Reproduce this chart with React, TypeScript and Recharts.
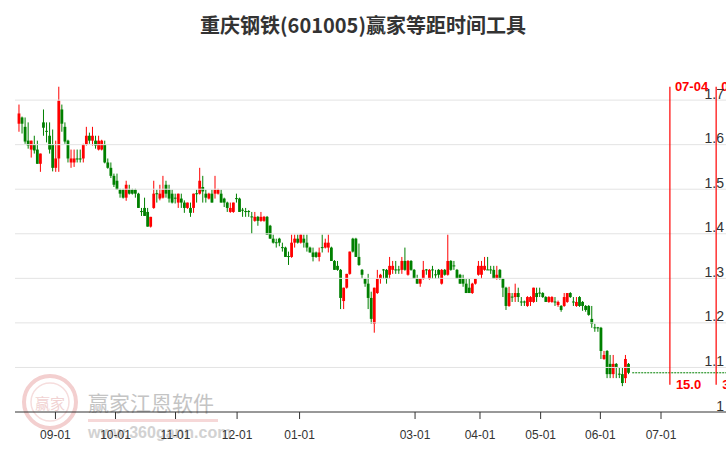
import React from 'react';
import { ComposedChart, Bar, XAxis, YAxis, ReferenceLine } from 'recharts';

const opens = [
  1.647, 1.661, 1.640, 1.609, 1.589, 1.600, 1.589, 1.557, 1.650, 1.631,
  1.620, 1.600, 1.548, 1.569, 1.679, 1.640, 1.609, 1.560, 1.560, 1.569,
  1.569, 1.569, 1.600, 1.620, 1.609, 1.609, 1.589, 1.589, 1.600, 1.560,
  1.548, 1.530, 1.519, 1.499, 1.499, 1.481, 1.499, 1.499, 1.499, 1.490,
  1.451, 1.458, 1.449, 1.416, 1.458, 1.491, 1.479, 1.481, 1.510, 1.499,
  1.490, 1.481, 1.470, 1.479, 1.470, 1.458, 1.458, 1.458, 1.491, 1.490,
  1.505, 1.490, 1.479, 1.490, 1.490, 1.490, 1.490, 1.479, 1.470, 1.449,
  1.449, 1.480, 1.479, 1.454, 1.451, 1.451, 1.439, 1.429, 1.438, 1.429,
  1.429, 1.438, 1.418, 1.389, 1.381, 1.389, 1.370, 1.369, 1.350, 1.348,
  1.380, 1.389, 1.380, 1.389, 1.380, 1.369, 1.358, 1.358, 1.348, 1.370,
  1.369, 1.369, 1.369, 1.339, 1.328, 1.319, 1.249, 1.279, 1.310, 1.389,
  1.389, 1.348, 1.319, 1.299, 1.288, 1.256, 1.198, 1.267, 1.299, 1.320,
  1.319, 1.308, 1.319, 1.320, 1.320, 1.319, 1.339, 1.308, 1.339, 1.319,
  1.299, 1.288, 1.299, 1.320, 1.299, 1.320, 1.309, 1.319, 1.288, 1.319,
  1.308, 1.339, 1.329, 1.319, 1.308, 1.299, 1.288, 1.279, 1.267, 1.288,
  1.308, 1.308, 1.319, 1.320, 1.320, 1.319, 1.299, 1.319, 1.299, 1.279,
  1.238, 1.259, 1.258, 1.267, 1.248, 1.248, 1.238, 1.247, 1.247, 1.267,
  1.268, 1.267, 1.258, 1.247, 1.247, 1.248, 1.240, 1.238, 1.238, 1.247,
  1.267, 1.248, 1.238, 1.258, 1.247, 1.238, 1.238, 1.209, 1.190, 1.190,
  1.189, 1.119, 1.137, 1.108, 1.085, 1.108, 1.086, 1.085, 1.076, 1.108,
];

const highs = [
  1.690, 1.663, 1.661, 1.650, 1.609, 1.620, 1.609, 1.580, 1.679, 1.650,
  1.650, 1.634, 1.609, 1.730, 1.690, 1.650, 1.611, 1.589, 1.589, 1.589,
  1.589, 1.602, 1.640, 1.627, 1.640, 1.620, 1.620, 1.611, 1.609, 1.569,
  1.560, 1.535, 1.535, 1.501, 1.501, 1.519, 1.510, 1.501, 1.501, 1.492,
  1.458, 1.481, 1.458, 1.438, 1.519, 1.499, 1.510, 1.530, 1.519, 1.510,
  1.499, 1.490, 1.490, 1.490, 1.475, 1.470, 1.470, 1.490, 1.499, 1.548,
  1.530, 1.499, 1.492, 1.499, 1.530, 1.501, 1.499, 1.481, 1.472, 1.470,
  1.470, 1.490, 1.481, 1.458, 1.458, 1.453, 1.449, 1.449, 1.440, 1.449,
  1.440, 1.440, 1.420, 1.398, 1.389, 1.391, 1.380, 1.371, 1.360, 1.398,
  1.398, 1.398, 1.398, 1.398, 1.398, 1.371, 1.369, 1.360, 1.369, 1.398,
  1.389, 1.398, 1.371, 1.341, 1.339, 1.321, 1.279, 1.310, 1.360, 1.391,
  1.391, 1.378, 1.321, 1.301, 1.310, 1.270, 1.279, 1.319, 1.310, 1.321,
  1.321, 1.348, 1.339, 1.339, 1.328, 1.348, 1.369, 1.341, 1.341, 1.321,
  1.308, 1.299, 1.339, 1.321, 1.321, 1.328, 1.319, 1.321, 1.321, 1.321,
  1.398, 1.341, 1.339, 1.321, 1.310, 1.308, 1.299, 1.299, 1.290, 1.299,
  1.339, 1.339, 1.348, 1.348, 1.328, 1.328, 1.328, 1.321, 1.301, 1.281,
  1.281, 1.267, 1.288, 1.279, 1.258, 1.250, 1.260, 1.260, 1.279, 1.279,
  1.279, 1.269, 1.260, 1.260, 1.260, 1.258, 1.250, 1.240, 1.267, 1.267,
  1.269, 1.258, 1.258, 1.260, 1.249, 1.240, 1.240, 1.238, 1.198, 1.191,
  1.191, 1.137, 1.139, 1.128, 1.128, 1.110, 1.099, 1.099, 1.128, 1.110,
];

const lows = [
  1.629, 1.625, 1.602, 1.591, 1.571, 1.580, 1.557, 1.539, 1.620, 1.605,
  1.580, 1.540, 1.539, 1.539, 1.629, 1.602, 1.560, 1.548, 1.550, 1.560,
  1.560, 1.560, 1.598, 1.602, 1.598, 1.591, 1.587, 1.587, 1.558, 1.546,
  1.525, 1.505, 1.499, 1.481, 1.479, 1.474, 1.488, 1.488, 1.481, 1.458,
  1.440, 1.440, 1.416, 1.414, 1.456, 1.470, 1.475, 1.479, 1.481, 1.470,
  1.468, 1.468, 1.458, 1.458, 1.447, 1.456, 1.438, 1.447, 1.470, 1.488,
  1.470, 1.470, 1.477, 1.470, 1.479, 1.488, 1.470, 1.460, 1.449, 1.447,
  1.447, 1.470, 1.449, 1.438, 1.438, 1.438, 1.400, 1.427, 1.418, 1.427,
  1.427, 1.398, 1.389, 1.378, 1.369, 1.372, 1.360, 1.348, 1.330, 1.346,
  1.369, 1.378, 1.378, 1.369, 1.360, 1.358, 1.338, 1.346, 1.338, 1.358,
  1.367, 1.358, 1.339, 1.319, 1.317, 1.231, 1.231, 1.277, 1.308, 1.358,
  1.348, 1.328, 1.299, 1.281, 1.231, 1.198, 1.178, 1.265, 1.288, 1.299,
  1.288, 1.299, 1.310, 1.310, 1.310, 1.310, 1.317, 1.306, 1.317, 1.299,
  1.288, 1.281, 1.297, 1.308, 1.297, 1.299, 1.299, 1.299, 1.286, 1.306,
  1.306, 1.317, 1.319, 1.299, 1.288, 1.281, 1.267, 1.267, 1.265, 1.286,
  1.306, 1.299, 1.317, 1.319, 1.310, 1.299, 1.297, 1.297, 1.258, 1.229,
  1.236, 1.247, 1.247, 1.247, 1.238, 1.238, 1.236, 1.238, 1.245, 1.247,
  1.258, 1.256, 1.247, 1.245, 1.245, 1.238, 1.236, 1.225, 1.236, 1.245,
  1.256, 1.238, 1.236, 1.236, 1.227, 1.225, 1.216, 1.189, 1.180, 1.180,
  1.119, 1.117, 1.076, 1.076, 1.076, 1.076, 1.076, 1.058, 1.065, 1.085,
];

const closes = [
  1.670, 1.647, 1.607, 1.598, 1.609, 1.587, 1.557, 1.580, 1.638, 1.629,
  1.589, 1.548, 1.569, 1.699, 1.647, 1.607, 1.569, 1.569, 1.569, 1.567,
  1.567, 1.600, 1.620, 1.609, 1.620, 1.598, 1.609, 1.609, 1.560, 1.548,
  1.530, 1.510, 1.499, 1.490, 1.481, 1.510, 1.490, 1.490, 1.490, 1.458,
  1.449, 1.440, 1.416, 1.438, 1.490, 1.489, 1.490, 1.499, 1.490, 1.479,
  1.470, 1.479, 1.490, 1.470, 1.458, 1.470, 1.447, 1.490, 1.489, 1.519,
  1.495, 1.481, 1.490, 1.470, 1.499, 1.499, 1.470, 1.470, 1.458, 1.458,
  1.470, 1.479, 1.449, 1.452, 1.449, 1.449, 1.437, 1.438, 1.429, 1.438,
  1.438, 1.398, 1.389, 1.380, 1.379, 1.380, 1.369, 1.348, 1.348, 1.380,
  1.389, 1.380, 1.398, 1.380, 1.369, 1.358, 1.348, 1.348, 1.358, 1.369,
  1.380, 1.380, 1.339, 1.319, 1.319, 1.256, 1.279, 1.310, 1.360, 1.360,
  1.348, 1.330, 1.308, 1.288, 1.256, 1.209, 1.279, 1.299, 1.308, 1.319,
  1.299, 1.328, 1.328, 1.319, 1.319, 1.339, 1.319, 1.339, 1.319, 1.299,
  1.288, 1.299, 1.319, 1.319, 1.319, 1.319, 1.308, 1.308, 1.319, 1.308,
  1.339, 1.319, 1.328, 1.299, 1.288, 1.288, 1.267, 1.267, 1.288, 1.299,
  1.328, 1.328, 1.328, 1.319, 1.319, 1.299, 1.308, 1.299, 1.279, 1.238,
  1.267, 1.258, 1.267, 1.258, 1.247, 1.247, 1.258, 1.258, 1.279, 1.258,
  1.267, 1.258, 1.247, 1.258, 1.258, 1.247, 1.247, 1.229, 1.258, 1.267,
  1.258, 1.247, 1.247, 1.238, 1.238, 1.229, 1.218, 1.198, 1.189, 1.189,
  1.137, 1.128, 1.085, 1.085, 1.108, 1.099, 1.085, 1.065, 1.119, 1.088,
];

const monthTickIndex = [11.9, 31.5, 51.1, 71.2, 91.6, 129.3, 150.5, 170.3, 189.8, 209.6];
const monthTickLabels = ['09-01', '10-01', '11-01', '12-01', '01-01', '03-01', '04-01', '05-01', '06-01', '07-01'];
const priceTicks = [1.0, 1.1, 1.2, 1.3, 1.4, 1.5, 1.6, 1.7];
const gridPrices = [1.1, 1.2, 1.3, 1.4, 1.5, 1.6, 1.7];

const cycleIndex = [212.5, 227.6];
const cycleTopLabels = ['07-04', '07-25'];
const cycleBottomLabels = ['15.0', '30.0'];
const cycleRange = [1.061, 1.730];

const X_DOMAIN: [number, number] = [-1.306, 237.02];
const Y_DOMAIN: [number, number] = [1.0, 1.79];
const RED = '#ff0000';
const GREEN = '#008000';

const data = opens.map((o, i) => ({ i, o, h: highs[i], l: lows[i], c: closes[i] }));
const lastClose = closes[closes.length - 1];
const lastIndex = data.length - 1;

const Candle = (props: any) => {
  const { x, y, width, height, payload } = props;
  if (x == null || y == null || !payload) return null;
  const { o, h, l, c } = payload;
  const top = Math.min(y, y + height);
  const bottom = Math.max(y, y + height);
  const range = h - l;
  const toPx = (v: number) => (range > 0 ? top + ((h - v) / range) * (bottom - top) : top);
  const color = c > o ? RED : GREEN;
  const cx = x + width / 2;
  const bTop = toPx(Math.max(o, c));
  const bBot = toPx(Math.min(o, c));
  const bh = Math.max(bBot - bTop, 1);
  const bw = 2.8;
  return (
    <g>
      <line x1={cx} x2={cx} y1={top} y2={bottom} stroke={color} strokeWidth={1} />
      <rect x={cx - bw / 2} y={bTop} width={bw} height={bh} fill={color} />
    </g>
  );
};

const PriceTick = (props: any) => {
  const { x, y, payload } = props;
  const v = payload.value;
  const label = Math.abs(v - 1) < 1e-9 ? '1' : v.toFixed(1);
  return (
    <text x={x} y={y - 1.5} textAnchor="end" fontSize={14} fill="#333">
      {label}
    </text>
  );
};

const CycleLabel = (props: any) => {
  const { viewBox, top, bottom } = props;
  if (!viewBox) return null;
  const { x, y, height } = viewBox;
  return (
    <g>
      <text x={x + 5} y={y + 4.5} fontSize={13} fontWeight="bold" fill={RED}>
        {top}
      </text>
      <text x={x + 6} y={y + height + 4.5} fontSize={13} fontWeight="bold" fill={RED}>
        {bottom}
      </text>
    </g>
  );
};

export default function App() {
  return (
    <div
      style={{
        position: 'absolute',
        left: 0,
        top: 0,
        width: 726,
        height: 450,
        overflow: 'hidden',
        background: '#fff',
        fontFamily: '"Liberation Sans", Arial, sans-serif',
      }}
    >
      {/* watermark */}
      <svg width={726} height={450} style={{ position: 'absolute', left: 0, top: 0 }}>
        <circle cx={50} cy={402} r={26} fill="none" stroke="#f3cfcf" strokeWidth={4} />
        <circle cx={50} cy={402} r={19} fill="none" stroke="#f6dddd" strokeWidth={1.5} />
        <text x={50} y={409} textAnchor="middle" fontSize={15} fill="#f1d2d2" fontFamily='"Noto Sans CJK SC"'>
          赢家
        </text>
        <text x={88} y={411} fontSize={21} fill="#c4c4c4" fontFamily='"Noto Sans CJK SC"'>
          赢家江恩软件
        </text>
        <rect x={88} y={419} width={130} height={3} fill="#f6d8d8" />
        <text x={88} y={438} fontSize={16} fill="#d2d2d2" fontWeight="bold" fontFamily='"Liberation Sans", Arial'>
          www.360gann.com
        </text>
      </svg>

      <div
        style={{
          position: 'absolute',
          left: 0,
          top: 11,
          width: 726,
          textAlign: 'center',
          fontSize: 20,
          lineHeight: '28px',
          fontWeight: 'bold',
          color: '#333',
          fontFamily: '"Noto Sans CJK SC", sans-serif',
        }}
      >
        重庆钢铁(601005)赢家等距时间工具
      </div>

      <div style={{ position: 'absolute', left: 0, top: 0 }}>
        <ComposedChart width={745} height={450} data={data} margin={{ top: 60, right: 0, left: 15, bottom: 0 }}>
          <XAxis
            type="number"
            dataKey="i"
            domain={X_DOMAIN}
            allowDataOverflow
            ticks={monthTickIndex}
            interval={0}
            tickFormatter={(v: number) => monthTickLabels[monthTickIndex.indexOf(v)] ?? ''}
            height={38}
            tickSize={7}
            tickMargin={11}
            stroke="#333"
            tick={{ fontSize: 12, fill: '#333' }}
          />
          <YAxis
            orientation="right"
            mirror
            type="number"
            domain={Y_DOMAIN}
            allowDataOverflow
            ticks={priceTicks}
            interval={0}
            axisLine={false}
            tickLine={false}
            tickSize={0}
            tickMargin={21}
            tick={<PriceTick />}
          />
          {gridPrices.map((p) => (
            <ReferenceLine key={p} y={p} stroke="#e3e3e3" strokeWidth={1} />
          ))}
          <Bar
            dataKey={(d: any) => [d.l, d.h]}
            barSize={3}
            shape={<Candle />}
            isAnimationActive={false}
          />
          <ReferenceLine
            segment={[
              { x: lastIndex + 1.2, y: lastClose },
              { x: X_DOMAIN[1], y: lastClose },
            ]}
            stroke={GREEN}
            strokeDasharray="2 1"
            strokeWidth={1}
          />
          {cycleIndex.map((ci, k) => (
            <ReferenceLine
              key={k}
              segment={[
                { x: ci, y: cycleRange[1] },
                { x: ci, y: cycleRange[0] },
              ]}
              stroke={RED}
              strokeWidth={1.2}
              label={<CycleLabel top={cycleTopLabels[k]} bottom={cycleBottomLabels[k]} />}
            />
          ))}
        </ComposedChart>
      </div>
    </div>
  );
}
